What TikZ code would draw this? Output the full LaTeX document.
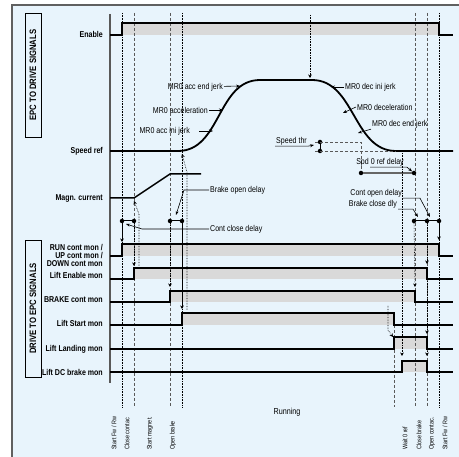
\documentclass[tikz,border=0pt]{standalone}
\usepackage{fontspec}
\setmainfont{Liberation Sans}[FakeStretch=0.83]
\usetikzlibrary{arrows.meta}

\definecolor{panel}{RGB}{232,244,252}
\definecolor{bandgray}{RGB}{217,217,217}

\begin{document}
\begin{tikzpicture}[x=1pt,y=-1pt,
		sig/.style={line width=1.2pt},
		lbl/.style={font=\fontsize{8.5}{8}\selectfont\bfseries, anchor=east, inner sep=0pt, align=right},
		note/.style={font=\fontsize{8.5}{9}\selectfont, inner sep=1pt},
		phase/.style={font=\fontsize{6.6}{7}\selectfont, rotate=90, anchor=west, inner sep=0pt},
		title/.style={draw, line width=0.8pt, rotate=90, minimum width=124pt, minimum height=16pt, inner sep=0pt, font=\fontsize{9.3}{10}\selectfont\bfseries},
		tline/.style={densely dashed, gray!70!black, line width=0.5pt},
		tdot/.style={densely dotted, line width=0.6pt},
		cause/.style={densely dotted, line width=0.6pt, -{Stealth[length=3.5pt,width=3.5pt]}},
		pointer/.style={line width=0.6pt, -{Stealth[length=4pt,width=3pt]}},
		evt/.style={circle, fill, inner sep=0pt, minimum size=4.5pt}
	]
	\useasboundingbox (0,0) rectangle (459,457);
	\fill[panel] (12,5) rectangle (459,457);
	\draw[gray!75!black, line width=1.5pt] (12,457) -- (12,5) -- (459,5);

	\node[title] (epc) at (33,75) {EPC TO DRIVE SIGNALS};
	\node[title, minimum width=137pt] (drv) at (33,308.5) {DRIVE TO EPC SIGNALS};

	\foreach \lo/\hi/\ta/\tb in {35/23/122/439, 256/244/122/439, 279/268/134/427, 302/291/170/415,
			325/313/182/394, 349/337/394/427, 372/361/402/427}
		\fill[bandgray] (\ta,\hi) rectangle (\tb,\lo);

	\foreach \x in {134,170,415,427}
		\draw[tline] (\x,13) -- (\x,407);
	\foreach \x in {122,182,439}
		\draw[tdot] (\x,13) -- (\x,407);
	\draw[tline] (394,325) -- (394,407);

	\draw[gray!70!black, line width=2pt] (110,14) -- (110,383);

	\foreach \lo/\hi/\ta/\tb in {35/23/122/439, 256/244/122/439, 279/268/134/427, 302/291/170/415,
			325/313/182/394, 349/337/394/427, 372/361/402/427}
		\draw[sig] (110,\lo) -- (\ta,\lo) -- (\ta,\hi) -- (\tb,\hi) -- (\tb,\lo) -- (453,\lo);

	\draw[line width=1.8pt] (110,151) -- (178,151) .. controls (221,151) and (217,80) .. (260,80)
		-- (312,80) .. controls (355,80) and (353,151) .. (396,151) -- (453,151);
	\draw[line width=1.5pt] (110,198) -- (134,198) -- (170,174) -- (201,174);

	\node[lbl] (enable) at (103,34) {Enable};
	\node[lbl] (speed) at (103,151) {Speed ref};
	\node[lbl] (magn) at (103,198) {Magn. current};
	\node[lbl] (run) at (103,255) {RUN cont mon /\\UP cont mon /\\DOWN cont mon};
	\node[lbl] (liften) at (103,275) {Lift Enable mon};
	\node[lbl] (brake) at (103,300) {BRAKE cont mon};
	\node[lbl] (liftst) at (103,323) {Lift Start mon};
	\node[lbl] (land) at (103,349) {Lift Landing mon};
	\node[lbl] (dcbr) at (103,372) {Lift DC brake mon};

	\node[evt] (ccA) at (122,221) {};
	\node[evt] (ccB) at (134,221) {};
	\node[evt] (boA) at (170,221) {};
	\node[evt] (boB) at (182,221) {};
	\node[evt] (thrA) at (320,142) {};
	\node[evt] (thrB) at (320,151) {};
	\node[evt] (szA) at (361,173) {};
	\node[evt] (szB) at (414,173) {};
	\node[evt] (bcA) at (414,221) {};
	\node[evt] (bcB) at (427,221) {};
	\node[evt] (bcC) at (439,221) {};
	\draw[line width=1pt] (ccA) -- (ccB) (boA) -- (boB) (bcA) -- (bcB) -- (bcC) (thrA) -- (thrB);
	\draw[line width=1.5pt, gray!80!black] (szA) -- (szB);
	\draw[tline] (315,142) -- (361,142) -- (szA);
	\draw[tline] (315,151) -- (396,151);

	\node[note, anchor=east] (accend) at (224,87) {MR0 acc end jerk};
	\node[note, anchor=east] (accel) at (209,110) {MR0 acceleration};
	\node[note, anchor=east] (accini) at (191,131) {MR0 acc ini jerk};
	\node[note, anchor=west] (decini) at (344,87) {MR0 dec ini jerk};
	\node[note, anchor=west] (decel) at (356,107) {MR0 deceleration};
	\node[note, anchor=west] (decend) at (371,124) {MR0 dec end jerk};
	\node[note, anchor=west] (thr) at (275,141) {Speed thr};
	\node[note] (spd0) at (380,162) {Spd 0 ref delay};
	\node[note, anchor=east] (cod) at (403,193) {Cont open delay};
	\node[note, anchor=east] (bcd) at (398,204) {Brake close dly};
	\node[note, anchor=west] (bod) at (209,190) {Brake open delay};
	\node[note, anchor=west] (ccd) at (209,229) {Cont close delay};

	\coordinate (pAccEnd) at (240,86);
	\coordinate (pAccel) at (223,110);
	\coordinate (pAccIni) at (213,131);
	\coordinate (pDecIni) at (331,87);
	\coordinate (pDecel) at (343,113);
	\coordinate (pDecEnd) at (358,133);
	\draw[pointer] (accend) -- (pAccEnd);
	\draw[pointer] (accel) -- (pAccel);
	\draw[pointer] ([xshift=8pt]accini.east) -- (pAccIni);
	\draw[pointer] (decini) -- (pDecIni);
	\draw[pointer] (decel.west) -- (pDecel);
	\draw[pointer] (decend.south west) -- (pDecEnd);
	\draw[pointer] (thr.south west) -- (thr.south east) -- (314,145);
	\draw[pointer] ([xshift=-10pt]spd0.south) -- ([xshift=2pt]spd0.south east) -- (szB);
	\draw[pointer] (cod.south east) -- ++(17,0) -- (430,217);
	\draw[pointer] (bcd.south east) -- ++(15,0) -- (418,217);
	\draw[pointer] (bod.west) -- (184,190) -- (176,215);
	\draw[pointer] (ccd.west) -- (142,229) -- (126,224);

	\draw[cause] (310,15) -- (310,78);
	\draw[cause] (ccA) -- (122,242);
	\draw[cause] (ccB) -- (134,266);
	\draw[cause] (boA) -- (170,287);
	\draw[cause] (boB) -- (182,309);
	\draw[cause] (139,266) -- (139,214) -- (134,201);
	\draw[cause] (187,310) -- (187,172) -- (182,154);
	\draw[cause] (bcC) -- (439,240);
	\draw[cause] (bcB) -- (427,264);
	\draw[cause] (bcA) -- (415,287);
	\draw[cause] (427,281) -- (427,334);
	\draw[cause] (427,351) -- (427,356);
	\draw[cause] (402,153) -- (402,356);
	\draw[cause] (388,306) -- (388,330) -- (393,337);

	\node[phase] (ph1) at (114,450) {Start Fw / Rw};
	\node[phase] (ph2) at (127,450) {Close contac};
	\node[phase] (ph3) at (150,450) {Start magnet.};
	\node[phase] (ph4) at (173,450) {Open brake};
	\node[font=\fontsize{8.7}{9}\selectfont] (ph5) at (287,412) {Running};
	\node[phase] (ph6) at (405,450) {Wait 0 ref};
	\node[phase] (ph7) at (419,450) {Close brake};
	\node[phase] (ph8) at (432,450) {Open contac.};
	\node[phase] (ph9) at (445,450) {Start Fw / Rw};
\end{tikzpicture}
\end{document}
